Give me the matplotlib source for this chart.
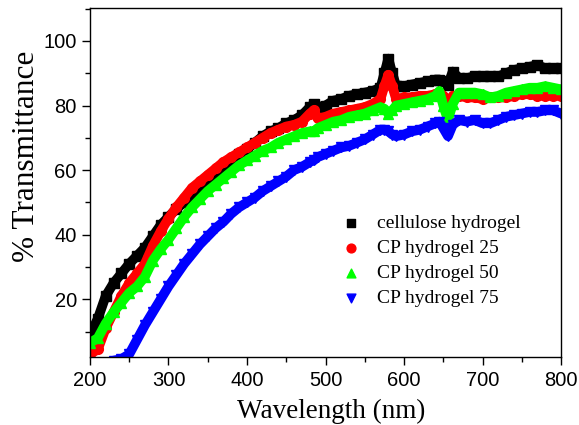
import matplotlib
matplotlib.use('Agg')
import matplotlib.pyplot as plt
from matplotlib.ticker import MultipleLocator

# wavelength grid (nm), extra points around the narrow peaks
wavelength = [200, 210, 220, 230, 240, 250, 260, 270, 280, 290,
              300, 310, 320, 330, 340, 350, 360, 370, 380, 390,
              400, 410, 420, 430, 440, 450, 460, 470, 480, 485,
              490, 500, 510, 520, 530, 540, 550, 560, 570, 575,
              580, 585, 590, 600, 610, 620, 630, 640, 645, 650,
              656, 662, 670, 680, 690, 700, 710, 720, 730, 740,
              750, 760, 770, 780, 790, 800]

cellulose = [9, 14, 21, 25, 28, 31, 33.5, 36, 39.5, 43,
             45.5, 48, 50, 52.5, 54.5, 56.5, 59, 61, 63, 65,
             66.5, 68.5, 70.5, 72, 73, 74.5, 75.5, 77, 79.5, 80.5,
             79.5, 80, 81.5, 82, 83, 83.5, 84, 84.5, 85.5, 90,
             94.5, 90, 86, 86, 86.5, 87, 87.5, 88, 88, 87.5,
             86.5, 90.5, 88.5, 88.5, 89, 89, 89, 89, 90, 91,
             91.5, 92, 92.5, 91.5, 91.5, 91.5]

cp25 = [3, 4.5, 11, 16, 21, 25, 28, 31, 36.5, 41,
        45, 48.5, 51.5, 54.5, 56.5, 58.5, 60.5, 62.5, 64, 65.5,
        67, 68.5, 70, 71.5, 72.5, 73.5, 74, 75, 77.5, 78.5,
        76, 76.5, 77.5, 78, 78.5, 79, 79.5, 80.5, 82, 86,
        89.5, 86, 82, 82.5, 82.5, 83, 83, 83.5, 84, 83,
        80.5, 83, 83, 82.5, 82.5, 82, 82.5, 82.5, 82.5, 83,
        83.5, 83.5, 83, 83, 83, 83]

cp50 = [6.5, 8, 12.5, 16, 19, 22, 24, 27, 32, 35.5,
        38.5, 42, 45.5, 48.5, 51, 53.5, 55.5, 57.5, 59.5, 61.5,
        63, 64.5, 66, 67, 68.5, 69.5, 70.5, 71.5, 72, 72,
        73, 74, 75, 75.5, 76.5, 77, 77.5, 78.5, 79.5, 79,
        77.5, 78.5, 80, 80.5, 81, 81.5, 82, 83, 84.5, 80,
        75.5, 80.5, 84, 84, 84, 83.5, 82.5, 83, 84, 84.5,
        85, 85.5, 85.5, 86, 85.5, 85]

cp75 = [-2, -2, -1.5, 1, 1.5, 3, 7.5, 12, 16, 20,
        24, 27.5, 31, 34, 37, 39.5, 42, 44, 46.5, 48.5,
        50, 51.5, 53.5, 55, 56.5, 58, 60, 61, 62.5, 63,
        64, 65, 66, 67, 67.5, 68.5, 69.5, 71, 72.5, 72.5,
        72, 71, 70.5, 71, 72, 72.5, 73.5, 74.5, 75, 73,
        70.5, 74, 75.5, 75, 75.5, 74.5, 74.5, 75.5, 76.5, 77,
        77.5, 78, 78, 78.5, 78.5, 77.5]

labels = ['cellulose hydrogel', 'CP hydrogel 25', 'CP hydrogel 50', 'CP hydrogel 75']
series = [cellulose, cp25, cp50, cp75]
colors = ['#000000', '#ff0000', '#00ff00', '#0000ff']
markers = ['s', 'o', '^', 'v']

fig = plt.figure(figsize=(5.79, 4.25), dpi=100)
ax = fig.add_axes([0.1554, 0.159, 0.8136, 0.823])

for y, lab, c, m in zip(series, labels, colors, markers):
    # thick band made of a wide line plus markers
    ax.plot(wavelength, y, color=c, lw=7, solid_capstyle='round',
            solid_joinstyle='round', marker=m, ms=7, mec=c, mfc=c)
    ax.scatter([], [], color=c, marker=m, s=40, label=lab)

ax.set_xlim(200, 800)
ax.set_ylim(2, 110.3)
ax.xaxis.set_major_locator(MultipleLocator(100))
ax.xaxis.set_minor_locator(MultipleLocator(50))
ax.yaxis.set_minor_locator(MultipleLocator(10))
ax.set_yticks([20, 40, 60, 80, 100])
ax.tick_params(which='major', direction='out', length=6, width=1,
               labelsize=14.5, top=False, right=False)
ax.tick_params(which='minor', direction='out', length=3.5, width=1,
               top=False, right=False)
for t in ax.get_xticklabels() + ax.get_yticklabels():
    t.set_fontfamily('Liberation Sans')

for s in ax.spines.values():
    s.set_linewidth(1)

ax.set_xlabel('Wavelength (nm)', fontfamily='Liberation Serif', fontsize=19.5)
ax.set_ylabel('% Transmittance', fontfamily='Liberation Serif', fontsize=22.5)
ax.xaxis.set_label_coords(0.511, -0.118)
ax.yaxis.set_label_coords(-0.105, 0.575)

leg = ax.legend(loc='upper left', bbox_to_anchor=(0.497, 0.43), frameon=False,
                prop={'family': 'Liberation Serif', 'size': 14},
                handletextpad=0.3, labelspacing=0.38, scatterpoints=1,
                borderaxespad=0)

fig.savefig('out.png', dpi=100)
